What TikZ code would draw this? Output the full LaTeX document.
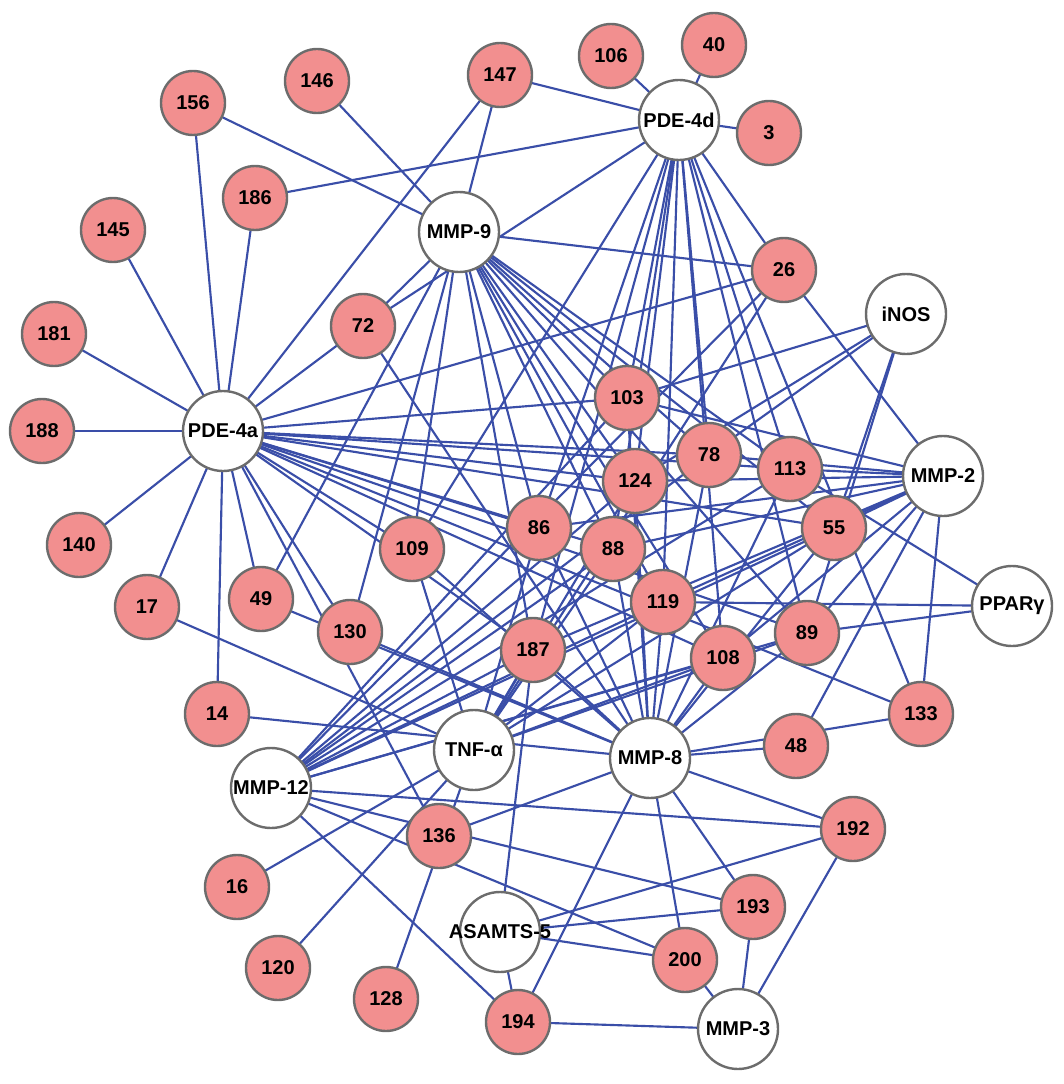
\documentclass[tikz,border=0pt]{standalone}
\usepackage{fontspec}
\setmainfont{Liberation Sans}
\usetikzlibrary{backgrounds}
\definecolor{edgeblue}{RGB}{58,78,168}
\definecolor{pinkfill}{RGB}{242,143,143}
\definecolor{ringgray}{RGB}{108,108,108}
\begin{document}
\begin{tikzpicture}[x=0.75pt,y=-0.75pt,
  lbl/.style={font=\fontsize{15}{18}\selectfont\bfseries},
  cmpd/.style={circle,draw=ringgray,line width=1.8pt,fill=pinkfill,minimum size=48pt,inner sep=0pt,lbl},
  targ/.style={circle,draw=ringgray,line width=1.8pt,fill=white,minimum size=60pt,inner sep=0pt,lbl},
  link/.style={draw=edgeblue,line width=1.6pt}]
\useasboundingbox (0,0) rectangle (1063,1084);
% compounds
\foreach \n/\x/\y in {106/611/56,40/714/45,147/500/75,146/317/81,156/193/103,3/769/133,186/255/198,145/113/230,26/784/270,72/363/326,181/54/334,188/42/431,103/627/398,78/709/455,113/790/469,124/635/481,86/539/528,88/613/549,55/834/528,140/79/545,109/412/549,17/147/607,49/261/599,130/350/632,119/663/602,89/807/633,187/533/650,108/723/658,133/921/714,14/217/714,48/796/746,136/439/836,192/853/829,16/237/887,193/753/907,120/278/968,128/386/999,200/685/960,194/518/1022}
  \node[cmpd] (c\n) at (\x,\y) {\n};
% targets
\node[targ] (pdeD) at (679,120) {PDE-4d};
\node[targ] (mmp9) at (459,232) {MMP-9};
\node[targ] (inos) at (906,314) {iNOS};
\node[targ] (pdeA) at (223,431) {PDE-4a};
\node[targ] (mmp2) at (943,476) {MMP-2};
\node[targ] (ppar) at (1012,606) {PPARγ};
\node[targ] (tnf) at (474,750) {TNF-α};
\node[targ] (mmp8) at (650,758) {MMP-8};
\node[targ] (mmp12) at (271,788) {MMP-12};
\node[targ] (adam) at (500,932) {};
\node[lbl] (adamtext) at (adam.center) {ASAMTS-5};
\node[targ] (mmp3) at (738,1029) {MMP-3};
\begin{pgfonlayer}{background}
\foreach \c in {106,40,3,147,186,72,26,109,86,187,103,88,124,119,78,108,113,89,133}
  \draw[link] (pdeD.center) -- (c\c.center);
\foreach \c in {146,156,147,72,26,49,130,109,187,86,88,119,124,108,89,103,78,113,55}
  \draw[link] (mmp9.center) -- (c\c.center);
\foreach \c in {156,145,186,147,181,188,140,17,14,49,130,136,72,26,103,78,113,124,55,86,88,89,133,108,109,187}
  \draw[link] (pdeA.center) -- (c\c.center);
\foreach \c in {103,124,78,55,89}
  \draw[link] (inos.center) -- (c\c.center);
\foreach \c in {26,103,78,113,124,86,88,55,119,187,108,89,48,133}
  \draw[link] (mmp2.center) -- (c\c.center);
\foreach \c in {113,119,89}
  \draw[link] (ppar.center) -- (c\c.center);
\foreach \c in {17,16,120,128,109,86,187,88,124,119,108,89,55,26}
  \draw[link] (tnf.center) -- (c\c.center);
\foreach \c in {14,49,130,109,72,86,187,88,124,103,119,78,108,113,89,55,48,133,136,192,193,200,194}
  \draw[link] (mmp8.center) -- (c\c.center);
\foreach \c in {26,103,124,88,78,113,187,119,55,89,108,192,193,200,194}
  \draw[link] (mmp12.center) -- (c\c.center);
\foreach \c in {187,194,192,193,200}
  \draw[link] (adam.center) -- (c\c.center);
\foreach \c in {194,193,192,200}
  \draw[link] (mmp3.center) -- (c\c.center);
\end{pgfonlayer}
\end{tikzpicture}
\end{document}
